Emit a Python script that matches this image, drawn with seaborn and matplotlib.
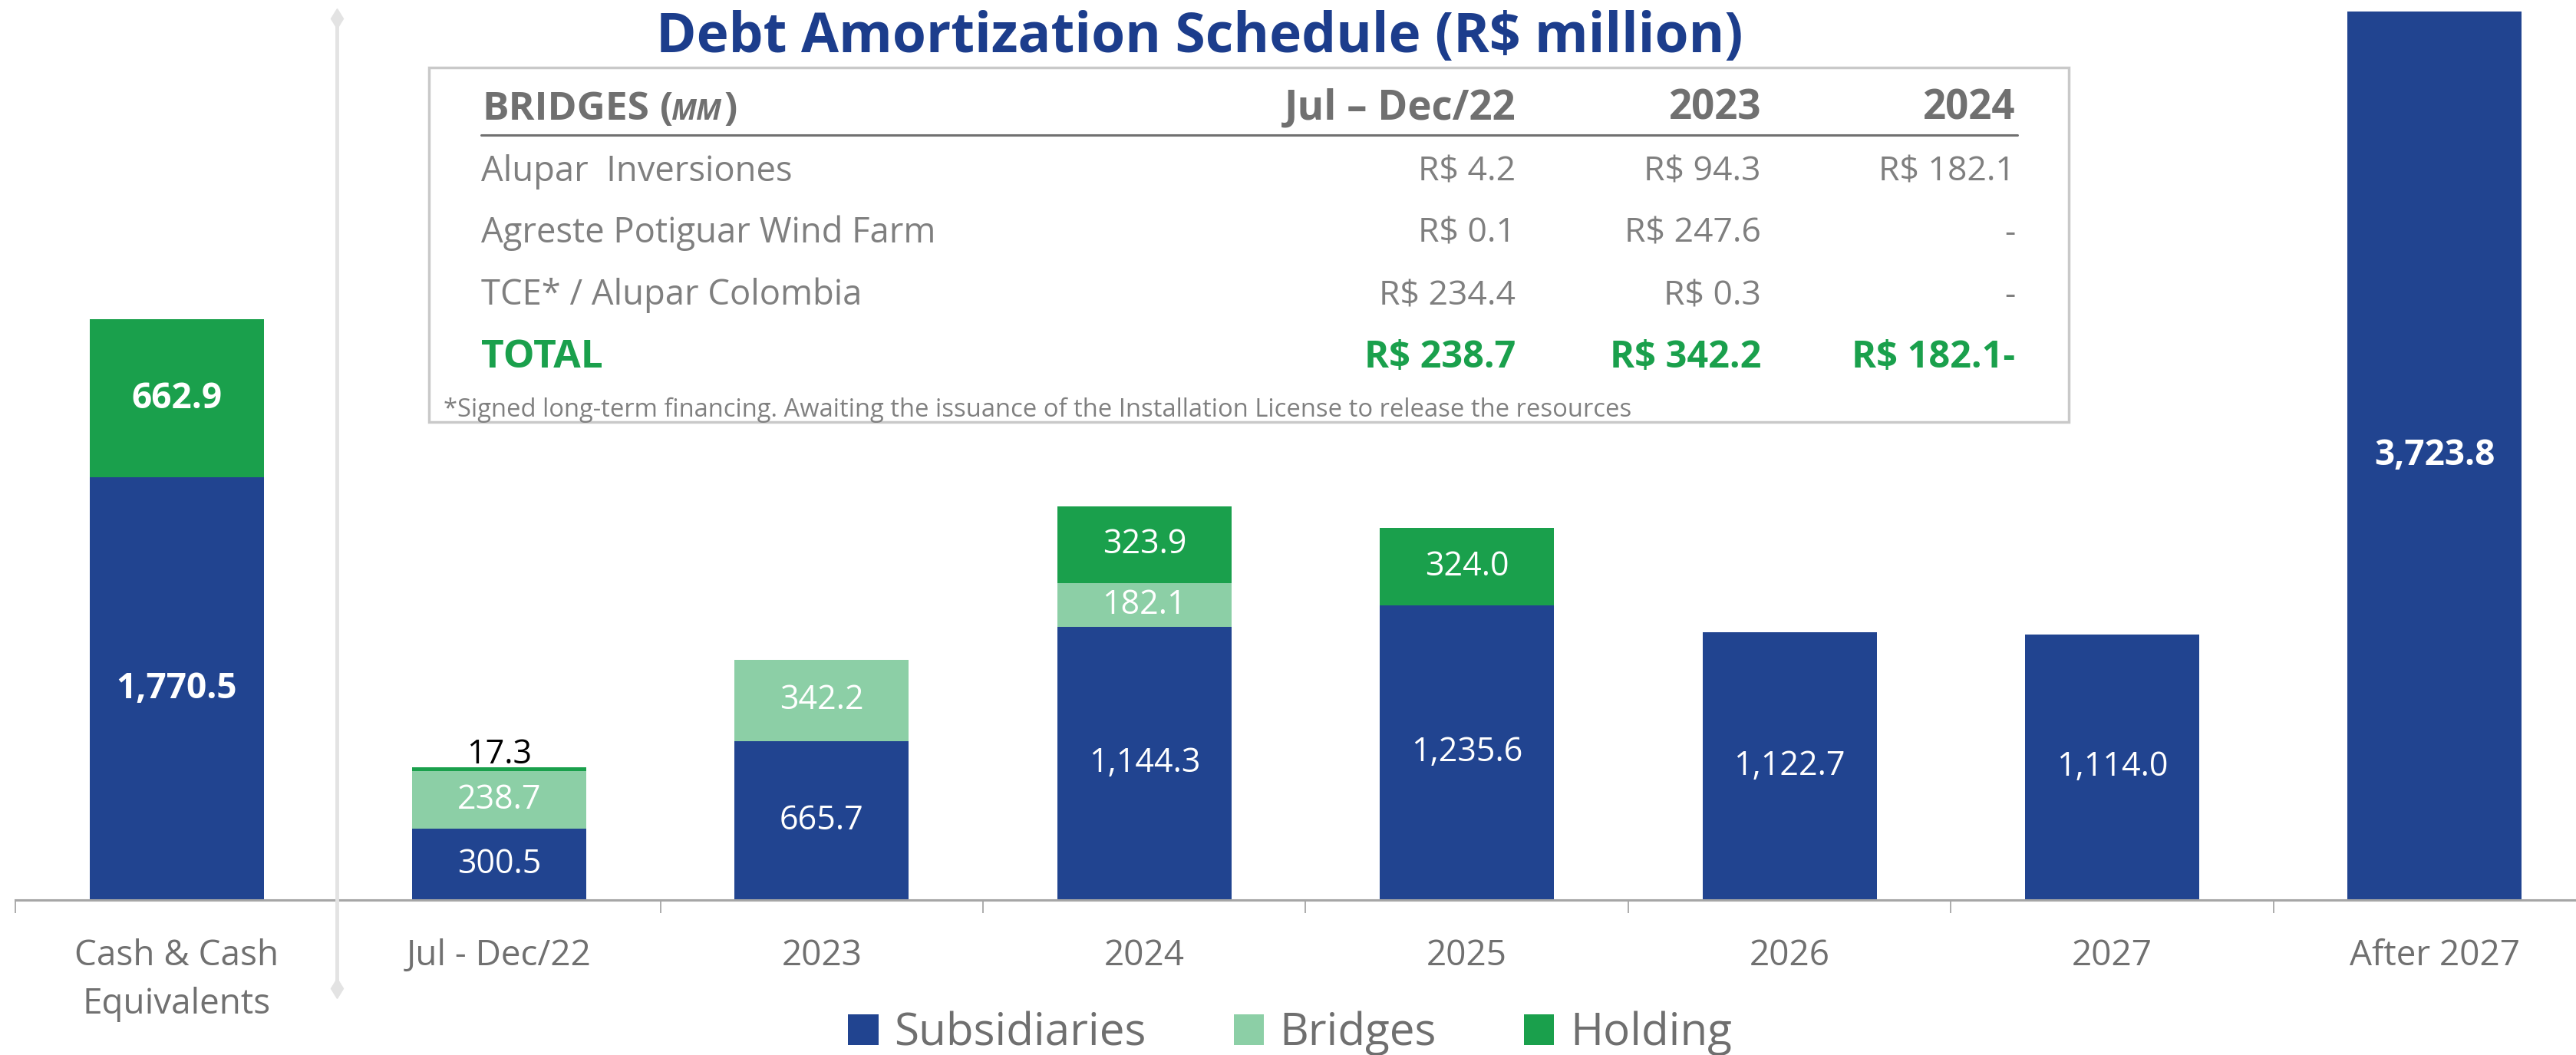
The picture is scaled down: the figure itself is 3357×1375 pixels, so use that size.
import numpy as np
import pandas as pd
import matplotlib
matplotlib.use("Agg")
import matplotlib.pyplot as plt
import seaborn as sns
from matplotlib.patches import Patch, Rectangle
from matplotlib.lines import Line2D

# ---------------- data ----------------
categories = ["Cash & Cash\nEquivalents", "Jul - Dec/22", "2023", "2024", "2025", "2026", "2027", "After 2027"]
subsidiaries = [1770.5, 300.5, 665.7, 1144.3, 1235.6, 1122.7, 1114.0, 3723.8]
bridges = [0.0, 238.7, 342.2, 182.1, 0.0, 0.0, 0.0, 0.0]
holding = [662.9, 17.3, 0.0, 323.9, 324.0, 0.0, 0.0, 0.0]
series_names = ["Subsidiaries", "Bridges", "Holding"]

table_header = "BRIDGES"
table_unit = "MM"
table_cols = ["Jul – Dec/22", "2023", "2024"]
table_rows = ["Alupar  Inversiones", "Agreste Potiguar Wind Farm", "TCE* / Alupar Colombia"]
table_vals = [["R$ 4.2", "R$ 94.3", "R$ 182.1"],
              ["R$ 0.1", "R$ 247.6", "-"],
              ["R$ 234.4", "R$ 0.3", "-"]]
table_total_label = "TOTAL"
table_total = ["R$ 238.7", "R$ 342.2", "R$ 182.1-"]
footnote = "*Signed long-term financing. Awaiting the issuance of the Installation License to release the resources"
title = "Debt Amortization Schedule (R$ million)"

# ---------------- style ----------------
BLUE = "#214490"
LGREEN = "#8ccfa6"
GREEN = "#1aa04c"
TITLE_C = "#1c3d8c"
GRAY_T = "#707070"
AXIS_C = "#a6a6a6"

sns.set_theme(style="white")
plt.rcParams['font.family'] = ['Open Sans', 'DejaVu Sans']

W, H = 3357, 1375
fig = plt.figure(figsize=(W / 100, H / 100), dpi=100)
fx = lambda px: px / W
fy = lambda py: 1 - py / H

base_px = 1173
left_px = 20
ax = fig.add_axes([fx(left_px), (H - base_px) / H, 1 - left_px / W, base_px / H])
ax.patch.set_visible(False)

df = pd.DataFrame({"cat": categories, "Subsidiaries": subsidiaries,
                   "Bridges": bridges, "Holding": holding})
sub = np.array(subsidiaries)
bri = np.array(bridges)
hol = np.array(holding)

common = dict(x="cat", width=0.54, saturation=1, linewidth=0, edgecolor="none", ax=ax, errorbar=None)
sns.barplot(data=df, y="Subsidiaries", color=BLUE, **common)
sns.barplot(data=df, y="Bridges", bottom=sub, color=LGREEN, **common)
sns.barplot(data=df, y="Holding", bottom=sub + bri, color=GREEN, **common)

px_per_unit = 0.311
ax.set_ylim(0, base_px / px_per_unit)
ax.set_xlim(-0.5, (W - 230) / 420.4)
ax.set_yticks([])
ax.set_xlabel("")
ax.set_ylabel("")
for s in ["top", "left", "right"]:
    ax.spines[s].set_visible(False)
ax.spines["bottom"].set_color(AXIS_C)
ax.spines["bottom"].set_linewidth(2.2)

ax.set_xticks(range(len(categories)))
ax.set_xticklabels(categories, fontsize=33, color=GRAY_T, linespacing=1.5)
ax.set_xticks(np.arange(-0.5, len(categories) - 0.5, 1), minor=True)
ax.tick_params(axis="x", which="major", bottom=True, length=0, pad=36)
ax.tick_params(axis="x", which="minor", bottom=True, length=12, width=1.3, color=AXIS_C, direction="out")

# ---------------- value labels ----------------
def fmt(v):
    return f"{v:,.1f}"

for i in range(len(categories)):
    bold = i in (0, len(categories) - 1)
    fw = "bold" if bold else "normal"
    fs = 33 if bold else 31
    if sub[i] > 0:
        ax.text(i, sub[i] / 2, fmt(sub[i]), ha="center", va="center", color="white", fontsize=fs, fontweight=fw)
    if bri[i] > 0:
        ax.text(i, sub[i] + bri[i] / 2, fmt(bri[i]), ha="center", va="center", color="white", fontsize=fs, fontweight=fw)
    if hol[i] > 0:
        if hol[i] < 60:
            ax.text(i, sub[i] + bri[i] + hol[i] + 16, fmt(hol[i]), ha="center", va="baseline",
                    color="black", fontsize=fs, fontweight=fw)
        else:
            ax.text(i, sub[i] + bri[i] + hol[i] / 2, fmt(hol[i]), ha="center", va="center",
                    color="white", fontsize=fs, fontweight=fw)

# ---------------- divider ----------------
fig.add_artist(Line2D([fx(439), fx(439)], [fy(24), fy(1288)], transform=fig.transFigure,
                      color="#e3e3e3", lw=3.5, marker="d", markersize=13, markevery=[0, 1],
                      markerfacecolor="#e3e3e3", markeredgecolor="#e3e3e3", zorder=0.5))

# ---------------- title ----------------
fig.text(fx(1563), fy(49), title, ha="center", va="center", fontsize=51.2,
         fontweight="bold", color=TITLE_C)

# ---------------- table ----------------
fig.add_artist(Rectangle((fx(559), fy(550)), (2696 - 559) / W, (550 - 88) / H,
                         transform=fig.transFigure, facecolor="white",
                         edgecolor="#c9c9c9", lw=2.5, zorder=3))
hdr_y = 156
fig.text(fx(628), fy(hdr_y), table_header, ha="left", va="baseline", fontsize=37,
         fontweight="bold", color=GRAY_T, zorder=4)
fig.text(fx(860), fy(hdr_y), "(", ha="left", va="baseline", fontsize=37,
         fontweight="bold", color=GRAY_T, zorder=4)
fig.text(fx(874), fy(hdr_y), table_unit, ha="left", va="baseline", fontsize=27,
         fontweight="bold", fontstyle="italic", color=GRAY_T, zorder=4)
fig.text(fx(944), fy(hdr_y), ")", ha="left", va="baseline", fontsize=37,
         fontweight="bold", color=GRAY_T, zorder=4)
col_right = [1975, 2295, 2626]
for c, txt in enumerate(table_cols):
    fig.text(fx(col_right[c]), fy(hdr_y), txt, ha="right", va="baseline", fontsize=38,
             fontweight="bold", color=GRAY_T, zorder=4)
fig.add_artist(Line2D([fx(627), fx(2629)], [fy(176), fy(176)], transform=fig.transFigure,
                      color=GRAY_T, lw=2.2, zorder=4))
row_y = [236, 316, 397]
for r, name in enumerate(table_rows):
    fig.text(fx(627), fy(row_y[r]), name, ha="left", va="baseline", fontsize=32.7,
             color="#7f7f7f", zorder=4)
    for c, v in enumerate(table_vals[r]):
        fig.text(fx(col_right[c]), fy(row_y[r]), v, ha="right", va="baseline", fontsize=32,
                 color="#7f7f7f", zorder=4)
tot_y = 479
fig.text(fx(627), fy(tot_y), table_total_label, ha="left", va="baseline", fontsize=37,
         fontweight="bold", color=GREEN, zorder=4)
for c, v in enumerate(table_total):
    fig.text(fx(col_right[c]), fy(tot_y), v, ha="right", va="baseline", fontsize=35,
             fontweight="bold", color=GREEN, zorder=4)
fig.text(fx(578), fy(543), footnote, ha="left", va="baseline", fontsize=23.6,
         color="#808080", zorder=4)

# ---------------- legend ----------------
handles = [Patch(facecolor=c, edgecolor="none") for c in (BLUE, LGREEN, GREEN)]
fig.legend(handles, series_names, loc="center", bbox_to_anchor=(fx(1681), fy(1347)), ncol=3,
           frameon=False, fontsize=42, handlelength=0.68, handleheight=0.68,
           handletextpad=0.35, columnspacing=1.95, labelcolor="#6f6f6f", borderpad=0, borderaxespad=0)

fig.savefig("out.png", dpi=100)
